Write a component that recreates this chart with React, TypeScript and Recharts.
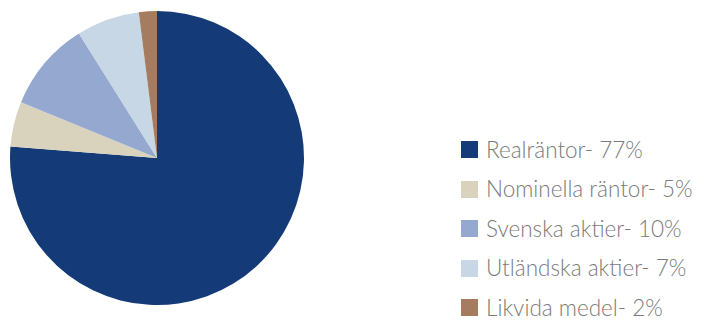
import { PieChart, Pie, Cell, Legend } from "recharts";

const labels = [
  "Realräntor",
  "Nominella räntor",
  "Svenska aktier",
  "Utländska aktier",
  "Likvida medel",
];
const shares = [77, 5, 10, 7, 2];
const colors = ["#143b77", "#d9d3bd", "#95a9d0", "#c8d7e6", "#a57c5f"];

const data = labels.map((name, i) => ({ name, value: shares[i] }));

function LegendList() {
  return (
    <div>
      {data.map((d, i) => (
        <div
          key={d.name}
          style={{
            display: "flex",
            alignItems: "center",
            height: 39.5,
            lineHeight: "20px",
            fontFamily: "Lato, sans-serif",
            fontWeight: 300,
            fontSize: 22.5,
            color: "#7a7a7a",
            whiteSpace: "nowrap",
          }}
        >
          <span
            style={{
              width: 17,
              height: 17,
              background: colors[i],
              marginRight: 8,
              display: "inline-block",
              flexShrink: 0,
            }}
          />
          {d.name}- {d.value}%
        </div>
      ))}
    </div>
  );
}

export default function App() {
  return (
    <div style={{ position: "absolute", left: 0, top: 0, width: 710, height: 322, background: "#fff" }}>
      <PieChart width={710} height={322} margin={{ top: 0, right: 0, bottom: 0, left: 0 }}>
        <Pie
          data={data}
          dataKey="value"
          nameKey="name"
          cx={157}
          cy={158}
          outerRadius={147}
          startAngle={90}
          endAngle={-270}
          stroke="none"
          isAnimationActive={false}
        >
          {data.map((d, i) => (
            <Cell key={d.name} fill={colors[i]} />
          ))}
        </Pie>
        <Legend
          content={<LegendList />}
          wrapperStyle={{ left: 461, top: 130, width: 250, bottom: "auto" }}
        />
      </PieChart>
    </div>
  );
}
